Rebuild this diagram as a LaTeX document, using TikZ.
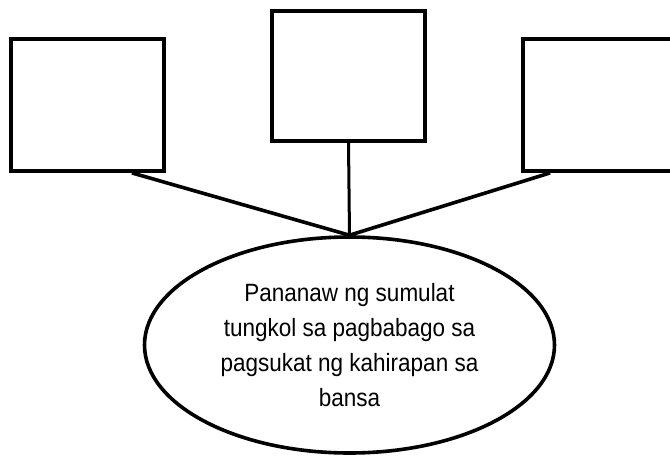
\documentclass[tikz,border=0pt]{standalone}
\usepackage{fontspec}
\setmainfont{Liberation Sans}
\newfontfamily\narrowsans[FakeStretch=0.9]{Liberation Sans}
\usetikzlibrary{shapes.geometric,calc}
\begin{document}
\begin{tikzpicture}[x=1pt,y=-1pt,
  boxnode/.style={draw=black,line width=3.8pt,minimum width=153pt,inner sep=0pt,fill=white},
  conn/.style={draw=black,line width=3.6pt},
  ovalnode/.style={draw=black,ellipse,line width=3.6pt,minimum width=410pt,minimum height=216pt,inner sep=0pt,
    align=center,font=\narrowsans\fontsize{25pt}{35pt}\selectfont}]
\useasboundingbox (0,0) rectangle (670,457);
\clip (0,0) rectangle (670,457);
\node[boxnode,minimum height=132pt] (lbox) at (87.5,105) {};
\node[boxnode,minimum height=130pt] (mbox) at (348.5,76) {};
\node[boxnode,minimum height=132pt] (rbox) at (599.5,105) {};
\node[ovalnode] (oval) at (349.5,345) {Pananaw ng sumulat\\tungkol sa pagbabago sa\\pagsukat ng kahirapan sa\\bansa};
\coordinate (lstart) at ($(lbox.south east)+(-34,0)$);
\coordinate (rstart) at ($(rbox.south west)+(29,0)$);
\draw[conn] (lstart) -- (oval.north);
\draw[conn] (rstart) -- (oval.north);
\draw[conn,line width=3pt] (mbox.south) -- (oval.north);
\end{tikzpicture}
\end{document}
